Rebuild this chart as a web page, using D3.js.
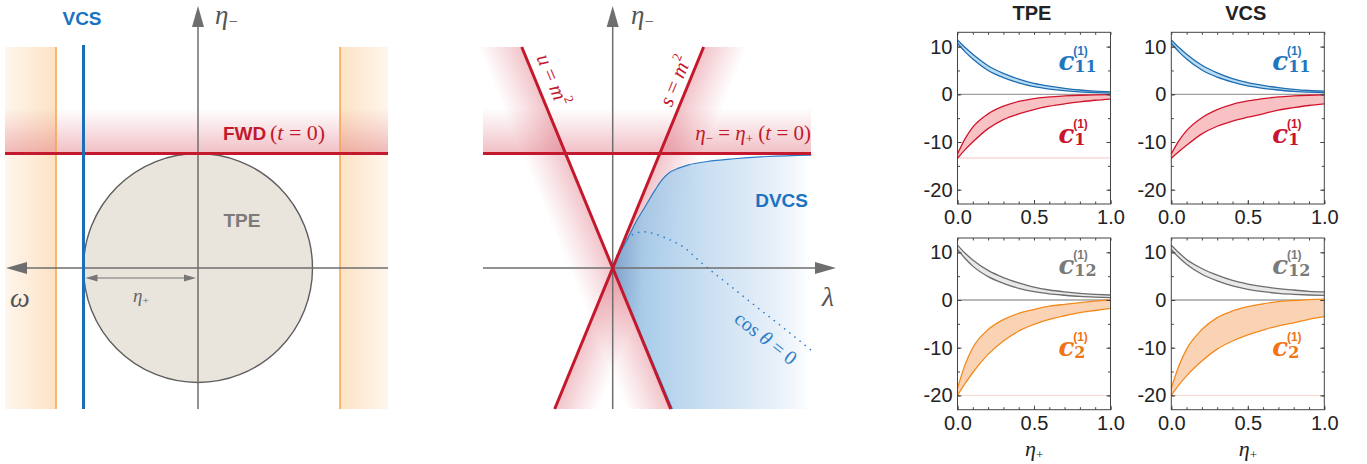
<!DOCTYPE html>
<html><head><meta charset="utf-8">
<script src="https://cdn.jsdelivr.net/npm/d3@7"></script>
<style>body{margin:0;background:#fff}svg{display:block}</style>
</head><body>
<svg id="c" width="1367" height="464"></svg>
<script>
// ================= DATA =================
// kinematic diagrams (units of eta_+)
const etaPlus = 1;                       // TPE disc radius, FWD line (t = 0)
const vcsOmega = [1];                    // VCS line at omega = eta_+
const thresholdOmega = [1.24, -1.24];    // orange threshold lines
const coneSlopes = [-2.43, 2.43];        // u = m^2 , s = m^2 lines through origin
const dvcsBoundary = [[0,0],[0.06,0.13],[0.123,0.243],[0.196,0.389],[0.283,0.535],[0.371,0.682],[0.43,0.769],[0.488,0.828],[0.576,0.872],[0.663,0.901],[0.825,0.93],[1.058,0.954],[1.351,0.974],[1.735,0.986]];
const cosThetaZero = [[0,0],[0.05,0.14],[0.12,0.25],[0.2,0.303],[0.27,0.316],[0.36,0.3],[0.49,0.25],[0.63,0.175],[0.766,0.053],[1.0,-0.135],[1.204,-0.298],[1.45,-0.49],[1.731,-0.716]];

// coefficient plots
const etaGrid = [0, 0.05, 0.1, 0.2, 0.3, 0.4, 0.5, 0.6, 0.7, 0.8, 0.9, 1.0];
const tpeC11Hi = [11.4, 9.8, 8.4, 6.0, 4.4, 3.2, 2.3, 1.7, 1.25, 0.9, 0.65, 0.5];
const tpeC11Lo = [10.7, 8.9, 7.4, 5.0, 3.5, 2.4, 1.6, 1.1, 0.75, 0.5, 0.35, 0.25];
const tpeC1Hi  = [-12.5, -9.3, -6.9, -4.1, -2.5, -1.5, -0.9, -0.55, -0.35, -0.2, -0.1, -0.05];
const tpeC1Lo  = [-13.4, -11.6, -10.0, -7.2, -5.3, -4.1, -3.2, -2.5, -2.0, -1.6, -1.25, -1.0];
const vcsC11Hi = [11.4, 9.8, 8.4, 6.1, 4.5, 3.3, 2.45, 1.85, 1.4, 1.05, 0.8, 0.65];
const vcsC11Lo = [10.7, 8.9, 7.4, 5.1, 3.6, 2.55, 1.75, 1.25, 0.9, 0.6, 0.45, 0.35];
const vcsC1Hi  = [-12.5, -9.7, -7.6, -4.9, -3.2, -2.1, -1.4, -0.9, -0.55, -0.35, -0.2, -0.1];
const vcsC1Lo  = [-13.4, -12.0, -10.7, -8.3, -6.7, -5.6, -4.8, -4.1, -3.3, -2.8, -2.35, -2.0];
const tpeC12Hi = [11.5, 9.8, 8.4, 6.2, 4.7, 3.6, 2.7, 2.1, 1.7, 1.4, 1.2, 1.05];
const tpeC12Lo = [10.6, 8.7, 7.1, 4.9, 3.5, 2.45, 1.75, 1.3, 1.0, 0.75, 0.6, 0.5];
const tpeC2Hi  = [-18.5, -13.5, -10.0, -6.2, -4.1, -2.8, -2.0, -1.3, -0.9, -0.55, -0.25, 0.05];
const tpeC2Lo  = [-20.0, -17.5, -15.2, -11.4, -8.6, -6.5, -5.1, -4.05, -3.3, -2.65, -2.2, -1.75];
const vcsC12Hi = [11.5, 9.9, 8.5, 6.6, 5.2, 4.1, 3.35, 2.8, 2.4, 2.1, 1.8, 1.7];
const vcsC12Lo = [10.6, 8.9, 7.5, 5.4, 4.0, 2.95, 2.25, 1.75, 1.4, 1.2, 1.05, 0.95];
const vcsC2Hi  = [-18.5, -13.8, -10.3, -6.2, -3.7, -2.3, -1.4, -0.8, -0.35, -0.1, 0.1, 0.2];
const vcsC2Lo  = [-20.0, -17.8, -15.9, -12.8, -10.3, -8.6, -7.3, -6.3, -5.4, -4.8, -4.05, -3.5];
const refLevelC1 = -13.35;
const refLevelC2 = -20;
const yTickMajor = [-20, -10, 0, 10];
const yTickMinor = [-20, -15, -10, -5, 0, 5, 10];
const xTickMajor = [0, 0.5, 1];
const xTickMinor = d3.range(0, 1.001, 0.1);
const columnTitles = ["TPE", "VCS"];

// ================= DRAW =================
const svg = d3.select("#c");
const defs = svg.append("defs");
const SERIF = "'Liberation Serif','DejaVu Serif',serif";
const SANS = "'Liberation Sans',Arial,sans-serif";
const RED = "#c4182c", BLUE = "#1a6fb8", GRAY = "#6e6e6e";

function linGrad(id, x1, y1, x2, y2, stops) {
  const g = defs.append("linearGradient").attr("id", id).attr("gradientUnits", "userSpaceOnUse")
    .attr("x1", x1).attr("y1", y1).attr("x2", x2).attr("y2", y2);
  stops.forEach(([o, c, a]) => g.append("stop").attr("offset", o).attr("stop-color", c).attr("stop-opacity", a));
  return `url(#${id})`;
}
function arrowHead(g, tipX, tipY, dir, len, half) {
  let p;
  if (dir === "up") p = [[tipX, tipY], [tipX - half, tipY + len], [tipX + half, tipY + len]];
  else if (dir === "left") p = [[tipX, tipY], [tipX + len, tipY - half], [tipX + len, tipY + half]];
  else p = [[tipX, tipY], [tipX - len, tipY - half], [tipX - len, tipY + half]];
  g.append("path").attr("d", "M" + p.join("L") + "Z").attr("fill", GRAY);
}
function etaLabel(g, x, y, sub, size, color, anchor) {
  const t = g.append("text").attr("x", x).attr("y", y).attr("font-family", SERIF)
    .attr("font-size", size).attr("fill", color || "#555").attr("text-anchor", anchor || "start");
  t.append("tspan").attr("font-style", "italic").text("η");
  t.append("tspan").attr("font-size", size * 0.6).attr("dy", size * 0.12).text(sub);
  return t;
}

const U = 114.5;
const yD = d3.scaleLinear().domain([0, 1]).range([268, 268 - U]);

// ---------- LEFT PANEL ----------
{
  const g = svg.append("g");
  const xL = d3.scaleLinear().domain([0, 1]).range([198, 198 - U]); // omega grows to the left
  const wMax = xL.invert(5), wMin = xL.invert(388);
  const eTop = yD.invert(47), eBot = yD.invert(409);
  thresholdOmega.forEach((w, i) => {
    const xl = xL(w), xo = xL(w > 0 ? wMax : wMin);
    const fill = linGrad("og" + i, xl, 0, xo, 0, [[0, "#f7a548", 0.32], [1, "#f7a548", 0.1]]);
    g.append("rect").attr("x", Math.min(xl, xo)).attr("width", Math.abs(xo - xl))
      .attr("y", yD(eTop)).attr("height", yD(eBot) - yD(eTop)).attr("fill", fill);
  });
  const pf = linGrad("pfL", 0, yD(etaPlus), 0, yD(etaPlus + 0.4), [[0, "#d0364a", 0.32], [0.6, "#d0364a", 0.12], [1, "#d0364a", 0]]);
  g.append("rect").attr("x", 5).attr("width", 383).attr("y", yD(etaPlus + 0.4))
    .attr("height", yD(etaPlus) - yD(etaPlus + 0.4)).attr("fill", pf);
  g.append("circle").attr("cx", xL(0)).attr("cy", yD(0)).attr("r", xL(0) - xL(etaPlus))
    .attr("fill", "#e9e4dc").attr("stroke", "#5e5e5e").attr("stroke-width", 1.4);
  thresholdOmega.forEach(w => g.append("line").attr("x1", xL(w)).attr("x2", xL(w))
    .attr("y1", yD(eTop)).attr("y2", yD(eBot)).attr("stroke", "#f5a54a").attr("stroke-width", 1.5));
  g.append("line").attr("x1", xL(0)).attr("x2", xL(0)).attr("y1", 409).attr("y2", 20).attr("stroke", GRAY).attr("stroke-width", 1.5);
  arrowHead(g, xL(0), 6, "up", 21, 6);
  g.append("line").attr("x1", 388).attr("x2", 20).attr("y1", yD(0)).attr("y2", yD(0)).attr("stroke", GRAY).attr("stroke-width", 1.5);
  arrowHead(g, 6, yD(0), "left", 21, 6);
  g.append("line").attr("x1", 5).attr("x2", 388).attr("y1", yD(etaPlus)).attr("y2", yD(etaPlus))
    .attr("stroke", RED).attr("stroke-width", 3);
  vcsOmega.forEach(w => g.append("line").attr("x1", xL(w)).attr("x2", xL(w)).attr("y1", 45).attr("y2", 409)
    .attr("stroke", BLUE).attr("stroke-width", 3));
  const ya = 278, xa1 = xL(etaPlus) + 2, xa2 = xL(0) - 2;
  g.append("line").attr("x1", xa1 + 4).attr("x2", xa2 - 4).attr("y1", ya).attr("y2", ya).attr("stroke", "#777").attr("stroke-width", 1);
  g.append("path").attr("d", `M${xa1},${ya}L${xa1 + 12},${ya - 3.5}L${xa1 + 12},${ya + 3.5}Z`).attr("fill", "#777");
  g.append("path").attr("d", `M${xa2},${ya}L${xa2 - 12},${ya - 3.5}L${xa2 - 12},${ya + 3.5}Z`).attr("fill", "#777");
  etaLabel(g, 133, 302, "+", 19, "#666");
  g.append("text").attr("x", 82).attr("y", 25).attr("text-anchor", "middle").attr("font-family", SANS)
    .attr("font-weight", "bold").attr("font-size", 19).attr("fill", "#1b72c0").text("VCS");
  etaLabel(g, 215, 24, "−", 27, "#555");
  g.append("text").attr("x", 10).attr("y", 307).attr("font-family", SERIF).attr("font-style", "italic")
    .attr("font-size", 28).attr("fill", "#555").text("ω");
  g.append("text").attr("x", 242).attr("y", 227).attr("text-anchor", "middle").attr("font-family", SANS)
    .attr("font-weight", "bold").attr("font-size", 19).attr("fill", "#7b7b7b").text("TPE");
  g.append("text").attr("x", 223).attr("y", 140).attr("font-family", SANS).attr("font-weight", "bold")
    .attr("font-size", 19).attr("fill", RED).text("FWD");
  const ft = g.append("text").attr("x", 270).attr("y", 140).attr("font-family", SERIF).attr("font-size", 22).attr("fill", RED);
  ft.append("tspan").text("(");
  ft.append("tspan").attr("font-style", "italic").text("t");
  ft.append("tspan").text(" = 0)");
}

// ---------- MIDDLE PANEL ----------
{
  const g = svg.append("g");
  const xM = d3.scaleLinear().domain([0, 1]).range([612.7, 612.7 + U]);
  const eTop = yD.invert(47), eBot = yD.invert(409);
  const lamL = xM.invert(483), lamR = xM.invert(811);
  coneSlopes.forEach((k, i) => {
    const topP = [xM(eTop / k), yD(eTop)], botP = [xM(eBot / k), yD(eBot)];
    const side = k < 0 ? -1 : 1;
    const off = 44 * side;
    const dx = botP[0] - topP[0], dy = botP[1] - topP[1], L = Math.hypot(dx, dy);
    const nx = side * dy / L, ny = -side * dx / L;
    const d = Math.abs(off) * Math.abs(dy) / L;
    const ox = xM(0), oy = yD(0);
    const fill = linGrad("dg" + i, ox, oy, ox + nx * d, oy + ny * d, [[0, "#d0364a", 0.3], [0.5, "#d0364a", 0.14], [1, "#d0364a", 0]]);
    g.append("path").attr("d", `M${topP}L${botP}L${botP[0] + off},${botP[1]}L${topP[0] + off},${topP[1]}Z`).attr("fill", fill);
  });
  const pf = linGrad("pfM", 0, yD(etaPlus), 0, yD(etaPlus + 0.4), [[0, "#d0364a", 0.32], [0.6, "#d0364a", 0.12], [1, "#d0364a", 0]]);
  g.append("rect").attr("x", 483).attr("width", 328).attr("y", yD(etaPlus + 0.4))
    .attr("height", yD(etaPlus) - yD(etaPlus + 0.4)).attr("fill", pf);
  const bf = linGrad("bf", xM(0), 0, xM(lamR), 0, [[0, "#7a9fc8", 0.95], [0.15, "#9fc6e6", 0.9], [0.5, "#c4dbf0", 0.85], [0.85, "#e6eff9", 0.85], [1, "#ffffff", 0.9]]);
  const line = d3.line().x(d => xM(d[0])).y(d => yD(d[1])).curve(d3.curveMonotoneX);
  const uBot = eBot / coneSlopes[0];
  g.append("path").attr("d", line(dvcsBoundary) + `L${xM(lamR)},${yD(eBot)}L${xM(uBot)},${yD(eBot)}Z`).attr("fill", bf);
  g.append("path").attr("d", line(dvcsBoundary)).attr("fill", "none").attr("stroke", "#2a7cc7").attr("stroke-width", 1.2);
  g.append("line").attr("x1", xM(0)).attr("y1", yD(0)).attr("x2", xM(uBot) + 1.5).attr("y2", yD(eBot)).attr("stroke", "#2a7cc7").attr("stroke-width", 1.5);
  g.append("path").attr("d", line(cosThetaZero)).attr("fill", "none").attr("stroke", "#2a7cc7")
    .attr("stroke-width", 1.6).attr("stroke-dasharray", "0.1,6.5").attr("stroke-linecap", "round");
  g.append("line").attr("x1", xM(0)).attr("x2", xM(0)).attr("y1", 409).attr("y2", 20).attr("stroke", GRAY).attr("stroke-width", 1.5);
  arrowHead(g, xM(0), 6, "up", 21, 6);
  g.append("line").attr("x1", 483).attr("x2", 820).attr("y1", yD(0)).attr("y2", yD(0)).attr("stroke", GRAY).attr("stroke-width", 1.5);
  arrowHead(g, 836, yD(0), "right", 21, 6);
  coneSlopes.forEach(k => g.append("line").attr("x1", xM(eTop / k)).attr("y1", yD(eTop)).attr("x2", xM(eBot / k)).attr("y2", yD(eBot))
    .attr("stroke", RED).attr("stroke-width", 3));
  g.append("line").attr("x1", xM(lamL)).attr("x2", xM(lamR)).attr("y1", yD(etaPlus)).attr("y2", yD(etaPlus))
    .attr("stroke", RED).attr("stroke-width", 3);
  etaLabel(g, 631, 24, "−", 27, "#555");
  g.append("text").attr("x", 822).attr("y", 306).attr("font-family", SERIF).attr("font-style", "italic")
    .attr("font-size", 28).attr("fill", "#555").text("λ");
  g.append("text").attr("x", 808).attr("y", 207).attr("text-anchor", "end").attr("font-family", SANS)
    .attr("font-weight", "bold").attr("font-size", 19).attr("fill", "#1b72c0").text("DVCS");
  const ang = Math.atan(Math.abs(coneSlopes[0])) * 180 / Math.PI;
  const mk = (cx, cy, rot, v) => {
    const t = g.append("text").attr("transform", `translate(${cx},${cy}) rotate(${rot})`).attr("text-anchor", "middle")
      .attr("dominant-baseline", "central").attr("font-family", SERIF).attr("font-size", 21).attr("fill", RED);
    t.append("tspan").attr("font-style", "italic").text(v);
    t.append("tspan").text(" = ");
    t.append("tspan").attr("font-style", "italic").text("m");
    t.append("tspan").attr("font-size", 13).attr("dy", -8).text("2");
  };
  mk(553, 80, ang, "u");
  mk(675, 81, -ang, "s");
  const et = g.append("text").attr("x", 811).attr("y", 140).attr("text-anchor", "end").attr("font-family", SERIF)
    .attr("font-size", 21).attr("fill", RED);
  et.append("tspan").attr("font-style", "italic").text("η");
  et.append("tspan").attr("font-size", 13).attr("dy", 3).text("−");
  et.append("tspan").attr("dy", -3).text(" = ");
  et.append("tspan").attr("font-style", "italic").text("η");
  et.append("tspan").attr("font-size", 13).attr("dy", 3).text("+");
  et.append("tspan").attr("dy", -3).text("  (");
  et.append("tspan").attr("font-style", "italic").text("t");
  et.append("tspan").text(" = 0)");
  const ct = g.append("text").attr("transform", "translate(766,338) rotate(38)").attr("text-anchor", "middle")
    .attr("dominant-baseline", "central").attr("font-family", SERIF).attr("font-size", 20).attr("fill", "#2a7cc7");
  ct.append("tspan").text("cos ");
  ct.append("tspan").attr("font-style", "italic").text("θ");
  ct.append("tspan").text(" = 0");
}

// ---------- COEFFICIENT PLOTS ----------
const colours = {
  blue: { line: "#1f6db0", fill: "#b8dcf3", text: "#1f77c0" },
  red: { line: "#d2142b", fill: "#f8c2c4", text: "#c8142e" },
  gray: { line: "#6d6d6d", fill: "#e8e8e8", text: "#7a7a7a" },
  orange: { line: "#f28a1e", fill: "#f9d3b4", text: "#f07414" }
};
const W = 153, H = 171.7;
const panels = [
  { x0: 957.5, y0: 32.3, title: columnTitles[0], ref: refLevelC1, refColor: "#f8c4c6",
    bands: [{ hi: tpeC11Hi, lo: tpeC11Lo, c: "blue", sub: "11", ly: 37.7 }, { hi: tpeC1Hi, lo: tpeC1Lo, c: "red", sub: "1", ly: 111 }] },
  { x0: 1171.3, y0: 32.3, title: columnTitles[1], ref: null,
    bands: [{ hi: vcsC11Hi, lo: vcsC11Lo, c: "blue", sub: "11", ly: 37.7 }, { hi: vcsC1Hi, lo: vcsC1Lo, c: "red", sub: "1", ly: 111 }] },
  { x0: 957.5, y0: 238, xlab: true, ref: refLevelC2, refColor: "#f6d8c8",
    bands: [{ hi: tpeC12Hi, lo: tpeC12Lo, c: "gray", sub: "12", ly: 36.3 }, { hi: tpeC2Hi, lo: tpeC2Lo, c: "orange", sub: "2", ly: 118 }] },
  { x0: 1171.3, y0: 238, xlab: true, ref: refLevelC2, refColor: "#f6d8c8",
    bands: [{ hi: vcsC12Hi, lo: vcsC12Lo, c: "gray", sub: "12", ly: 36.3 }, { hi: vcsC2Hi, lo: vcsC2Lo, c: "orange", sub: "2", ly: 118 }] }
];
panels.forEach(p => {
  const g = svg.append("g");
  const x = d3.scaleLinear().domain([0, 1]).range([p.x0, p.x0 + W]);
  const y = d3.scaleLinear().domain([-23, 13]).range([p.y0 + H, p.y0]);
  if (p.ref !== null) g.append("line").attr("x1", x(0)).attr("x2", x(1)).attr("y1", y(p.ref)).attr("y2", y(p.ref))
    .attr("stroke", p.refColor).attr("stroke-width", 1);
  g.append("line").attr("x1", x(0)).attr("x2", x(1)).attr("y1", y(0)).attr("y2", y(0)).attr("stroke", "#a0a0a0").attr("stroke-width", 1.3);
  p.bands.forEach(b => {
    const col = colours[b.c];
    const pts = etaGrid.map((e, i) => ({ e, hi: b.hi[i], lo: b.lo[i] }));
    const area = d3.area().x(d => x(d.e)).y0(d => y(d.lo)).y1(d => y(d.hi)).curve(d3.curveMonotoneX);
    g.append("path").attr("d", area(pts)).attr("fill", col.fill);
    ["hi", "lo"].forEach(k => g.append("path").attr("d", d3.line().x(d => x(d.e)).y(d => y(d[k])).curve(d3.curveMonotoneX)(pts))
      .attr("fill", "none").attr("stroke", col.line).attr("stroke-width", 1.3));
    const lx = p.x0 + 101, ly = p.y0 + b.ly;
    const t = g.append("text").attr("x", lx).attr("y", ly).attr("fill", col.text);
    t.append("tspan").attr("font-family", "'DejaVu Serif',serif").attr("font-weight", "bold").attr("font-style", "italic").attr("font-size", 26).text("c");
    t.append("tspan").attr("font-family", "'DejaVu Serif',serif").attr("font-weight", "bold").attr("font-size", 16).attr("dy", 2).text(b.sub);
    g.append("text").attr("x", p.x0 + 123).attr("y", ly - 19).attr("text-anchor", "middle").attr("dominant-baseline", "central")
      .attr("font-family", SANS).attr("font-weight", "bold").attr("font-size", 12).attr("fill", col.text).text("(1)");
  });
  g.append("rect").attr("x", p.x0).attr("y", p.y0).attr("width", W).attr("height", H).attr("fill", "none").attr("stroke", "#444").attr("stroke-width", 1);
  const ax = (axis, tx, ty) => {
    const a = g.append("g").attr("transform", `translate(${tx},${ty})`).call(axis);
    a.select(".domain").remove();
    a.selectAll("line").attr("stroke", "#444");
    a.selectAll("text").attr("font-family", SANS).attr("font-size", 20).attr("fill", "#222");
    return a;
  };
  ax(d3.axisBottom(x).tickValues(xTickMinor).tickFormat("").tickSizeInner(-2.5).tickSizeOuter(0), 0, p.y0 + H);
  ax(d3.axisTop(x).tickValues(xTickMinor).tickFormat("").tickSizeInner(-2.5).tickSizeOuter(0), 0, p.y0);
  ax(d3.axisBottom(x).tickValues(xTickMajor).tickFormat(d3.format(".1f")).tickSizeInner(-4).tickSizeOuter(0).tickPadding(6), 0, p.y0 + H);
  ax(d3.axisLeft(y).tickValues(yTickMinor).tickFormat("").tickSizeInner(-2.5).tickSizeOuter(0), p.x0, 0);
  ax(d3.axisRight(y).tickValues(yTickMinor).tickFormat("").tickSizeInner(-2.5).tickSizeOuter(0), p.x0 + W, 0);
  ax(d3.axisLeft(y).tickValues(yTickMajor).tickFormat(d => String(d)).tickSizeInner(-4).tickSizeOuter(0).tickPadding(5), p.x0, 0);
  ax(d3.axisRight(y).tickValues(yTickMajor).tickFormat("").tickSizeInner(-4).tickSizeOuter(0), p.x0 + W, 0);
  if (p.title) g.append("text").attr("x", p.x0 + W / 2 - 2).attr("y", 20).attr("text-anchor", "middle")
    .attr("font-family", SANS).attr("font-weight", "bold").attr("font-size", 20).attr("fill", "#222").text(p.title);
  if (p.xlab) etaLabel(g, p.x0 + W / 2 - 9, 456, "+", 22, "#222");
});
</script>
</body></html>
